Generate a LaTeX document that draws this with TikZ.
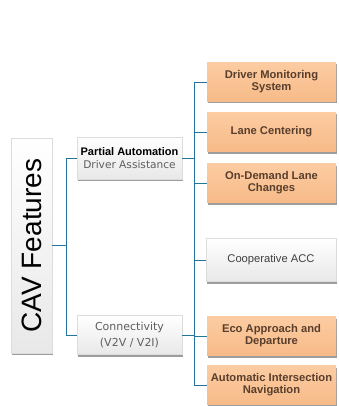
\documentclass[tikz,border=0pt]{standalone}
\usepackage{fontspec}
\setmainfont{Liberation Sans}
\newfontfamily\dvfont{DejaVu Sans}
\usetikzlibrary{shadows}
\definecolor{lineblue}{RGB}{35,115,155}
\definecolor{orangetop}{RGB}{252,204,162}
\definecolor{orangebot}{RGB}{247,186,136}
\definecolor{browntext}{RGB}{88,62,44}
\definecolor{greytext}{RGB}{95,95,95}
\definecolor{boxedge}{RGB}{220,220,220}
\tikzset{
  conn/.style={draw=lineblue, line width=0.9pt},
  basebox/.style={rectangle, inner sep=1pt, align=center,
    drop shadow={shadow xshift=0.6pt, shadow yshift=-2pt, opacity=0.55, fill=black!70}},
  whitebox/.style={basebox, draw=boxedge, line width=0.4pt, top color=white, bottom color=black!9},
  orangebox/.style={basebox, top color=orangetop, bottom color=orangebot,
    text=browntext, font=\fontsize{11.2}{12}\selectfont\bfseries,
    minimum width=129pt, minimum height=39pt},
}
\begin{document}
\begin{tikzpicture}[x=1pt,y=-1pt]
\useasboundingbox (0,0) rectangle (338,406);
% left column
\node[whitebox, minimum width=41pt, minimum height=215pt] (cav) at (31.5,245.5)
  {\rotatebox{90}{\fontsize{28}{28}\selectfont CAV Features}};
\node[whitebox, minimum width=105pt, minimum height=42pt] (pa) at (129.5,158)
  {\textcolor{black}{\fontsize{11}{13}\selectfont\bfseries Partial Automation}\\[1pt]
   \textcolor{greytext}{\dvfont\fontsize{10.6}{13}\selectfont Driver Assistance}};
\node[whitebox, minimum width=105pt, minimum height=39pt, text=greytext,
  font=\dvfont\fontsize{11}{16}\selectfont] (con) at (129.5,335)
  {Connectivity\\(V2V / V2I)};
% right column
\node[orangebox] (dms) at (271.5,82) {Driver Monitoring\\System};
\node[orangebox] (lc) at (271.5,132) {Lane Centering};
\node[orangebox] (od) at (271.5,183) {On-Demand Lane\\Changes};
\node[whitebox, minimum width=130pt, minimum height=43pt, text=black!75,
  font=\fontsize{11.2}{12}\selectfont] (acc) at (271,260) {Cooperative ACC};
\node[orangebox] (eco) at (271.5,336) {Eco Approach and\\Departure};
\node[orangebox] (ain) at (271.5,385) {Automatic Intersection\\Navigation};
% connectors
\coordinate (lt) at (66,0);
\coordinate (rt) at (194,0);
\draw[conn] (pa.west) -- (pa.west -| lt) -- (con.west -| lt) -- (con.west);
\draw[conn] (cav.east) -- (cav.east -| lt);
\draw[conn] (dms.west) -- (dms.west -| rt) -- (ain.west -| rt) -- (ain.west);
\draw[conn] (pa.east) -- (pa.east -| rt);
\draw[conn] (con.east) -- (con.east -| rt);
\draw[conn] (lc.west -| rt) -- (lc.west);
\draw[conn] (od.west -| rt) -- (od.west);
\draw[conn] (acc.west -| rt) -- (acc.west);
\draw[conn] (eco.west -| rt) -- (eco.west);
\end{tikzpicture}
\end{document}
